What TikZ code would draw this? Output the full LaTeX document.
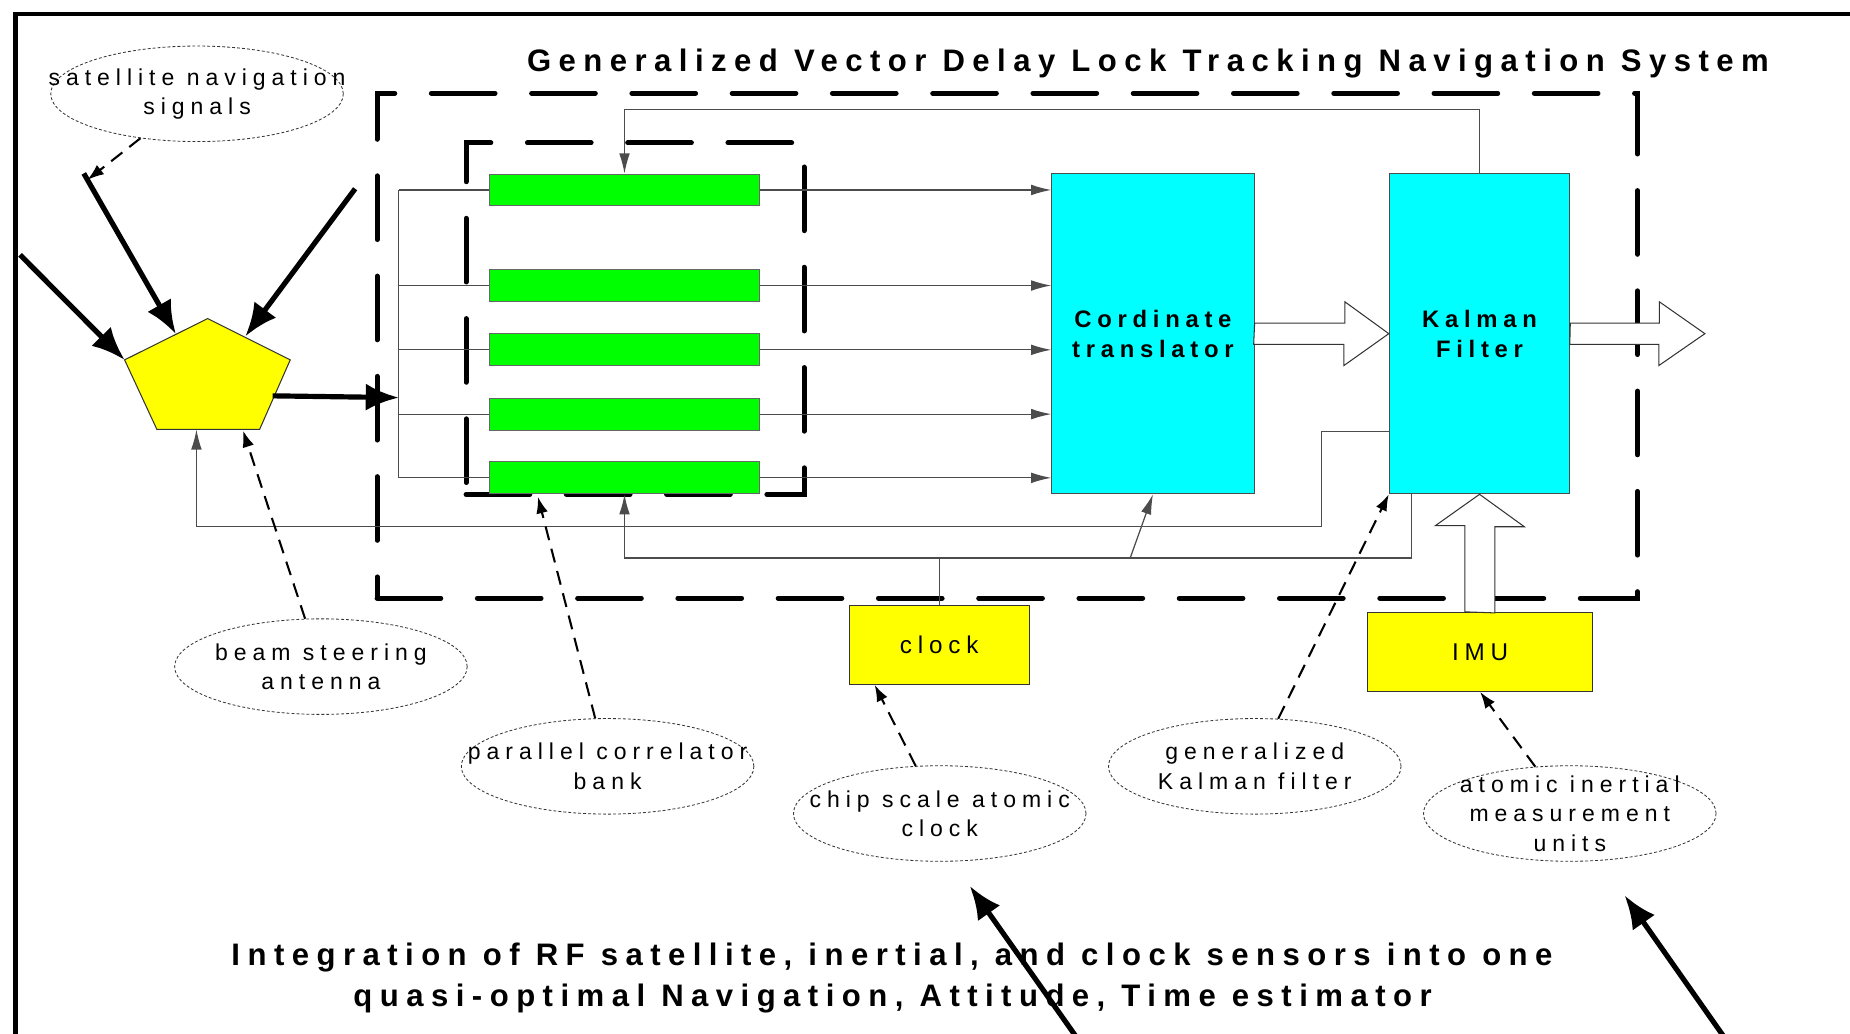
\documentclass[tikz,border=0pt]{standalone}
\usepackage{fontspec}
\setmainfont{Liberation Sans}[LetterSpace=24]
\usetikzlibrary{arrows.meta,positioning,shapes.geometric,calc}

\definecolor{bargreen}{RGB}{0,255,0}
\definecolor{boxcyan}{RGB}{0,255,255}
\definecolor{boxyellow}{RGB}{255,255,0}

\begin{document}
\begin{tikzpicture}[x=0.02cm,y=-0.02cm,>=Latex,
  wire/.style={draw=black!70,line width=0.6pt},
  thinarrow/.style={wire,-{Latex[length=3.4mm,width=1.8mm]}},
  bigarrow/.style={line width=2.5pt,-{Latex[length=5.6mm,width=4.6mm]}},
  bound/.style={line width=2.4pt,line cap=round,dash pattern=on 10.8mm off 6.2mm},
  pointer/.style={line width=1pt,dash pattern=on 2.4mm off 1.5mm,-{Latex[length=2.8mm,width=2mm]}},
  note/.style={ellipse,draw=black!80,line width=0.4pt,dash pattern=on 1.4pt off 1pt,minimum width=4.96cm,minimum height=1.62cm,inner sep=0pt},
  notetext/.style={align=center,font=\fontsize{11.1pt}{14.2pt}\selectfont\addfontfeature{LetterSpace=26}},
  corr/.style={draw=black!60,line width=0.5pt,fill=bargreen,minimum width=4.58cm,minimum height=0.54cm,inner sep=0pt},
  block/.style={draw=black!70,line width=0.5pt,fill=boxcyan,minimum width=#1,minimum height=5.43cm,align=center,inner sep=0pt,font=\bfseries\fontsize{11.5pt}{14.5pt}\selectfont},
  sensor/.style={draw=black!80,line width=0.5pt,fill=boxyellow,minimum width=#1,minimum height=1.34cm,inner sep=0pt,font=\fontsize{11.7pt}{14pt}\selectfont},
  hollow/.style={draw=black!80,line width=0.5pt,fill=white,line join=miter},
  heading/.style={anchor=base,inner sep=0pt,font=\bfseries\fontsize{15pt}{17pt}\selectfont}]

\useasboundingbox (0,0) rectangle (1568,876);
\clip (0,0) rectangle (1568,876);

% frame and title
\draw[line width=2.2pt] (13,900) -- (13,12) -- (1600,12);
\node[heading] (title) at (973,61) {Generalized Vector Delay Lock Tracking Navigation System};

% system boundary, correlator bank
\node[bound,draw,minimum width=21.37cm,minimum height=8.56cm] (vdll) at (853.75,293) {};
\node[bound,draw,minimum width=5.73cm,minimum height=5.96cm] (bank) at (538.25,270) {};

\foreach \i/\y in {1/161,2/242,3/296.5,4/351,5/405}
  \node[corr] (bar\i) at (529.3,\y) {};

\coordinate (bustop) at (338,161);
\coordinate (busbot) at (338,405);
\draw[wire] (bustop) -- (busbot);
\foreach \i in {1,...,5} \draw[wire] (bar\i.west -| bustop) -- (bar\i.west);

% translator, filter, sensors
\node[block=3.43cm] (trans) at (977.2,282.8) {Cordinate\\translator};
\node[block=3.06cm] (kal) at (1254,282.8) {Kalman\\Filter};
\node[sensor=3.05cm] (clk) at (796,546.5) {clock};
\node[sensor=3.82cm] (imu) at (1254.5,552.5) {IMU};

\foreach \i in {1,...,5} \draw[thinarrow] (bar\i.east) -- (bar\i.east -| trans.west);

% feedback paths
\coordinate (antfb) at (166.5,364);
\coordinate (tap) at (958,472.7);
\draw[thinarrow] (kal.north) -- ++(0,-54) -| (bar1.north);
\draw[thinarrow] (kal.south west) ++(0,-53) -- ++(-57,0) -- ++(0,80) -| (antfb);
\draw[thinarrow] (kal.south west) ++(19,0) -- ++(0,54) -| (bar5.south);
\draw[wire] (clk.north) -- ++(0,-40.3);
\draw[thinarrow] (tap) -- (trans.south);

% block arrows
\coordinate (out) at (1445,282.8);
\draw[hollow] (trans.east) ++(0,-9) -- ++(76.5,0) -- ++(0,-18) -- (kal.west) -- ++(-38,27) -- ++(0,-18) -- ++(-76.5,0) -- cycle;
\draw[hollow] (kal.east) ++(0,-9) -- ++(75.5,0) -- ++(0,-18) -- (out) -- ++(-39,27) -- ++(0,-18) -- ++(-75.5,0) -- cycle;
\draw[hollow] (imu.north) ++(-13,0) -- ++(0,-73) -- ++(-25,0) -- (kal.south) -- ++(38,27.5) -- ++(-25,0) -- ++(0,73) -- cycle;

% antenna
\coordinate (antT) at (176,270);
\coordinate (antL) at (105.6,305);
\coordinate (antR) at (246,305);
\coordinate (antBL) at (133,364);
\coordinate (antBR) at (220,364);
\draw[draw=black!80,line width=0.5pt,fill=boxyellow] (antT) -- (antR) -- (antBR) -- (antBL) -- (antL) -- cycle;

\coordinate (rayA) at (71,147);
\coordinate (hitA) at (149,283);
\coordinate (rayB) at (301,160);
\coordinate (hitB) at (208,285);
\coordinate (rayC) at (17,216);
\coordinate (antout) at (231,335.5);
\coordinate (busin) at (338,337);
\draw[bigarrow] (rayA) -- (hitA);
\draw[bigarrow] (rayB) -- (hitB);
\draw[bigarrow] (rayC) -- (antL);
\draw[bigarrow] (antout) -- (busin);

% annotations
\node[note] (satnote) at (167,79.5) {};
\node[notetext] (satlbl) at (satnote) {satellite navigation\\signals};
\node[note] (beamnote) at (272,565) {};
\node[notetext] (beamlbl) at (beamnote) {beam steering\\antenna};
\node[note] (banknote) at (515,649.5) {};
\node[notetext] (banklbl) at (banknote) {parallel correlator\\bank};
\node[note] (clknote) at (796.5,689.5) {};
\node[notetext] (clklbl) at (clknote) {chip scale atomic\\clock};
\node[note] (kfnote) at (1063.5,649.5) {};
\node[notetext] (kflbl) at (kfnote) {generalized\\Kalman filter};
\node[note] (imunote) at (1330.5,689.5) {};
\node[notetext] (imulbl) at (imunote) {atomic inertial\\measurement\\units};

\coordinate (antdash) at (206,365);
\draw[pointer] (satnote) -- ($(rayA)!0.04!(hitA)$);
\draw[pointer] (beamnote) -- (antdash);
\draw[pointer] (banknote) -- ($(bank.south west)+(63,0)$);
\draw[pointer] (clknote) -- ($(clk.south west)+(22,0)$);
\draw[pointer] (kfnote) -- (kal.south west);
\draw[pointer] (imunote) -- (imu.south);

% caption
\node[heading] (cap1) at (756,818) {Integration of RF satellite, inertial, and clock sensors into one};
\node[heading] (cap2) at (756.5,853) {quasi-optimal Navigation, Attitude, Time estimator};

\coordinate (tailD) at (913,880);
\coordinate (tipD) at (822,751);
\coordinate (tailE) at (1462,880);
\coordinate (tipE) at (1377,759);
\draw[bigarrow] (tailD) -- (tipD);
\draw[bigarrow] (tailE) -- (tipE);
\end{tikzpicture}
\end{document}
